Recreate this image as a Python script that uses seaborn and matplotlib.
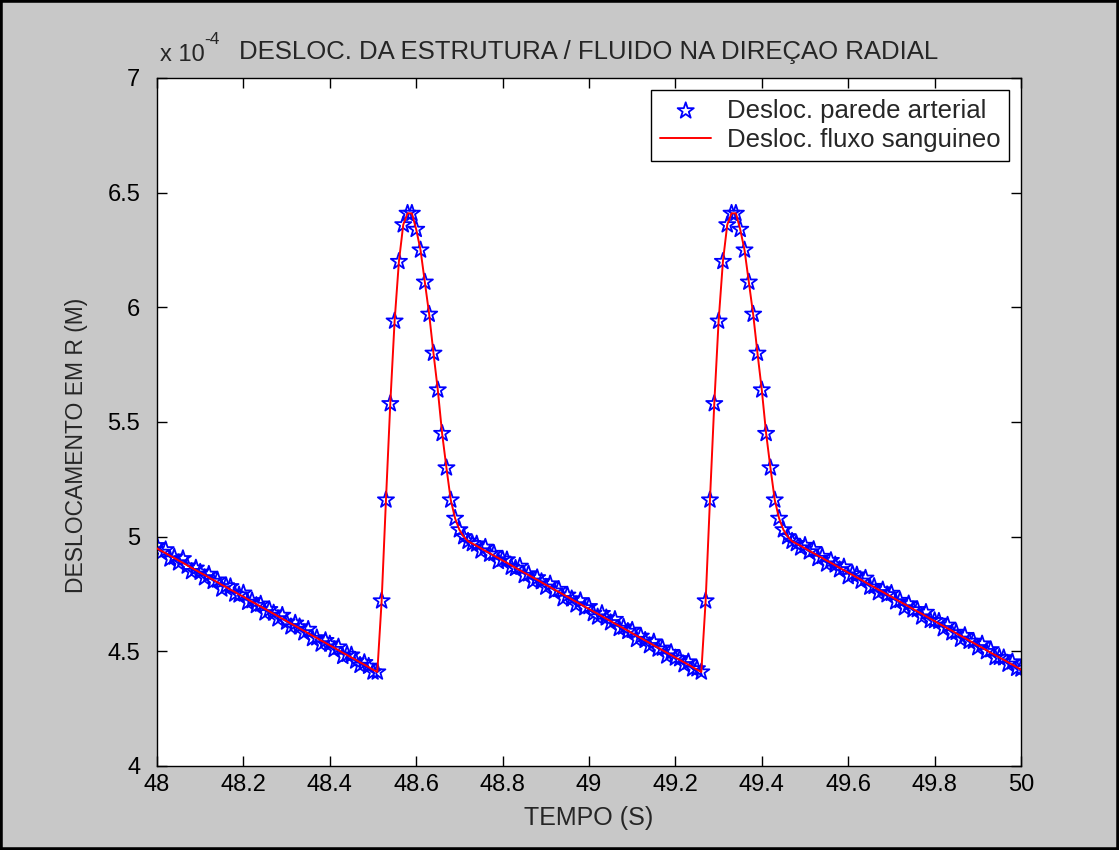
import numpy as np
import pandas as pd
import matplotlib
matplotlib.use("Agg")
import matplotlib.pyplot as plt
from matplotlib.patches import Rectangle
import seaborn as sns

# ---------------- data (values in units of 1e-4 m) ----------------
decay_a = [4.949, 4.938, 4.928, 4.917, 4.907, 4.896, 4.886, 4.875, 4.864, 4.854,
           4.843, 4.833, 4.822, 4.812, 4.801, 4.790, 4.780, 4.769, 4.759, 4.748,
           4.738, 4.727, 4.716, 4.706, 4.695, 4.685, 4.674, 4.664, 4.653, 4.642,
           4.632, 4.621, 4.611, 4.600, 4.590, 4.579, 4.568, 4.558, 4.547, 4.537,
           4.526, 4.516, 4.505, 4.494, 4.484, 4.473, 4.463, 4.452, 4.442, 4.431,
           4.420, 4.410]
peak_1 = [4.72, 5.16, 5.58, 5.94, 6.20, 6.36, 6.41, 6.41, 6.34, 6.25,
          6.11, 5.97, 5.80, 5.64, 5.45, 5.30, 5.16, 5.08, 5.03, 5.00, 4.98]
decay_b = [4.970, 4.960,
           4.949, 4.938, 4.928, 4.917, 4.907, 4.896, 4.886, 4.875, 4.864, 4.854,
           4.843, 4.833, 4.822, 4.812, 4.801, 4.790, 4.780, 4.769, 4.759, 4.748,
           4.738, 4.727, 4.716, 4.706, 4.695, 4.685, 4.674, 4.664, 4.653, 4.642,
           4.632, 4.621, 4.611, 4.600, 4.590, 4.579, 4.568, 4.558, 4.547, 4.537,
           4.526, 4.516, 4.505, 4.494, 4.484, 4.473, 4.463, 4.452, 4.442, 4.431,
           4.420, 4.410]
peak_2 = [4.72, 5.16, 5.58, 5.94, 6.20, 6.36, 6.41, 6.41, 6.34, 6.25,
          6.11, 5.97, 5.80, 5.64, 5.45, 5.30, 5.16, 5.08, 5.03, 5.00, 4.98]
decay_c = [4.970, 4.960,
           4.949, 4.938, 4.928, 4.917, 4.907, 4.896, 4.886, 4.875, 4.864, 4.854,
           4.843, 4.833, 4.822, 4.812, 4.801, 4.790, 4.780, 4.769, 4.759, 4.748,
           4.738, 4.727, 4.716, 4.706, 4.695, 4.685, 4.674, 4.664, 4.653, 4.642,
           4.632, 4.621, 4.611, 4.600, 4.590, 4.579, 4.568, 4.558, 4.547, 4.537,
           4.526, 4.516, 4.505, 4.494, 4.484, 4.473, 4.463, 4.452, 4.442, 4.431,
           4.420]

# wall-displacement deviations from the fluid curve (read as scatter of the stars)
dev_a = [0.012, -0.006, 0.015, -0.014, 0.004, -0.010, 0.018, -0.003, -0.016, 0.009,
         0.002, -0.012, 0.014, -0.007, 0.010, -0.018, 0.006, 0.013, -0.009, -0.002,
         0.016, -0.013, 0.005, -0.006, 0.011, -0.017, 0.008, 0.003, -0.011, 0.015,
         -0.004, -0.014, 0.012, 0.007, -0.009, 0.017, -0.012, 0.001, -0.015, 0.010,
         0.006, -0.008, 0.014, -0.016, 0.003, 0.011, -0.005, -0.013, 0.009, 0.004,
         -0.010, 0.000]
dev_p1 = [0.0] * 21
dev_b = [0.000, 0.008, -0.011, 0.016, -0.004, 0.010, -0.015, 0.006, 0.013, -0.008,
         -0.002, 0.017, -0.012, 0.005, -0.016, 0.009, 0.003, -0.010, 0.014, -0.006,
         0.011, -0.018, 0.007, 0.002, -0.013, 0.015, -0.005, 0.010, -0.009, -0.014,
         0.012, 0.004, -0.007, 0.018, -0.011, 0.006, -0.003, 0.013, -0.016, 0.008,
         0.001, -0.012, 0.015, -0.006, 0.009, -0.014, 0.011, -0.002, 0.005, -0.010,
         0.012, -0.007, 0.004, 0.000]
dev_p2 = [0.0] * 21
dev_c = [0.000, -0.009, 0.013, -0.004, 0.016, -0.012, 0.007, -0.015, 0.010, 0.002,
         -0.008, 0.014, -0.017, 0.005, 0.011, -0.006, 0.018, -0.010, 0.003, -0.013,
         0.009, -0.001, 0.015, -0.011, 0.006, -0.016, 0.012, -0.004, 0.008, -0.014,
         0.017, -0.007, 0.002, 0.010, -0.012, 0.014, -0.009, 0.004, -0.015, 0.011,
         -0.003, 0.007, -0.010, 0.016, -0.006, 0.013, -0.011, 0.001, 0.009, -0.008,
         0.012, -0.005, 0.003]

fluxo = np.array(decay_a + peak_1 + decay_b + peak_2 + decay_c)
parede = fluxo + np.array(dev_a + dev_p1 + dev_b + dev_p2 + dev_c)
tempo = np.round(np.linspace(48.0, 50.0, len(fluxo)), 2)

x_ticks = [48, 48.2, 48.4, 48.6, 48.8, 49, 49.2, 49.4, 49.6, 49.8, 50]
x_labels = ["48", "48.2", "48.4", "48.6", "48.8", "49", "49.2", "49.4", "49.6", "49.8", "50"]
y_ticks = [4, 4.5, 5, 5.5, 6, 6.5, 7]
y_labels = ["4", "4.5", "5", "5.5", "6", "6.5", "7"]

# ---------------- style ----------------
sns.set_style("ticks")
plt.rcParams['font.family'] = ['Liberation Sans', 'DejaVu Sans']

W, H = 1119, 850
fig = plt.figure(figsize=(W / 100, H / 100), dpi=100, facecolor='#c8c8c8')
L, R, T, B = 157, 1021, 78, 766
ax = fig.add_axes([L / W, 1 - B / H, (R - L) / W, (B - T) / H])
ax.set_facecolor('white')

df = pd.DataFrame({'t': tempo, 'parede': parede, 'fluxo': fluxo})

sns.scatterplot(data=df, x='t', y='parede', marker='*', s=150,
                color='blue', facecolor='none', edgecolor='blue', linewidth=1.3,
                ax=ax, label='Desloc. parede arterial', zorder=2)
sns.lineplot(data=df, x='t', y='fluxo', color='red', linewidth=1.4,
             ax=ax, label='Desloc. fluxo sanguineo', zorder=3,
             errorbar=None, sort=False)

ax.set_xlim(48, 50)
ax.set_ylim(4, 7)
ax.set_xticks(x_ticks)
ax.set_xticklabels(x_labels)
ax.set_yticks(y_ticks)
ax.set_yticklabels(y_labels)
ax.tick_params(direction='in', top=True, right=True, length=7, width=1,
               labelsize=17, colors='black')
ax.tick_params(axis='y', pad=12)
ax.tick_params(axis='x', pad=6)
for sp in ax.spines.values():
    sp.set_visible(True)
    sp.set_color('black')
    sp.set_linewidth(1.0)

ax.set_xlabel('TEMPO (S)', fontsize=18)
ax.set_ylabel('DESLOCAMENTO EM R (M)', fontsize=16.5)
ax.xaxis.set_label_coords(0.5, -(806 - B) / (B - T))
ax.yaxis.set_label_coords(-(L - 88) / (R - L), (B - 445) / (B - T))

leg = ax.legend(loc='upper right', fancybox=False, edgecolor='black',
                framealpha=1, fontsize=18.5, borderaxespad=0.45,
                handlelength=2.0, handletextpad=0.6, labelspacing=0.22,
                borderpad=0.35)
leg.get_frame().set_linewidth(1.0)

fig.text(589 / W, 1 - 52 / H, 'DESLOC. DA ESTRUTURA / FLUIDO NA DIREÇAO RADIAL',
         ha='center', va='center', fontsize=18.5)
fig.text(160 / W, 1 - 55 / H, 'x 10', ha='left', va='center', fontsize=17)
fig.text(204 / W, 1 - 40 / H, '-4', ha='left', va='center', fontsize=12.5)

fig.patches.append(Rectangle((0, 0), 1, 1, transform=fig.transFigure,
                             fill=False, edgecolor='black', linewidth=4))

fig.savefig('out.png', dpi=100, facecolor=fig.get_facecolor())
